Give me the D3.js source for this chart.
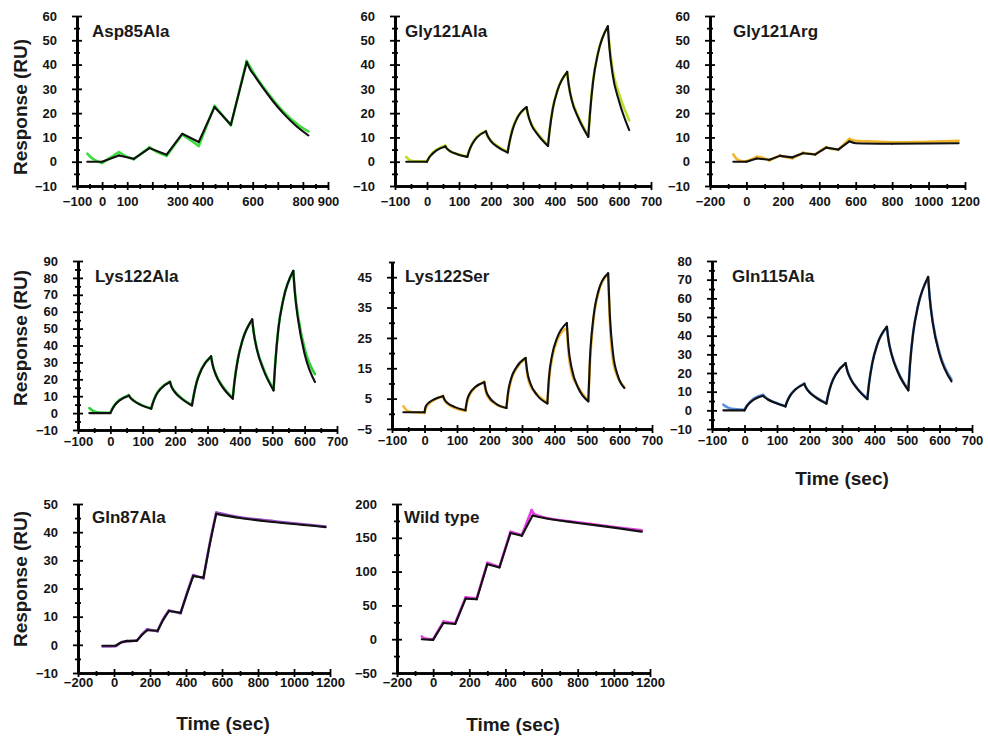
<!DOCTYPE html>
<html><head><meta charset="utf-8">
<script src="https://cdn.jsdelivr.net/npm/d3@7"></script>
<style>body{margin:0;background:#fff}</style>
</head><body>
<svg id="c" width="988" height="738"></svg>
<script>
// ---------- DATA (time sec, response RU) ----------
const asp85Ala_fit = [[-59,0],[0,0],[67,2.6],[126,1.2],[189,5.6],[257,2.9],[319,11.5],[385,8.1],[448,22.5],[513,15.2],[576,41],[590,38],[610,35],[644,30],[680,25],[723,19.8],[770,15],[822,10.8]];
const asp85Ala_obs = [[-59,3.3],[-45,1.8],[-20,0.2],[0,-0.5],[30,1.5],[67,4.0],[100,2.0],[126,1.0],[189,5.9],[220,4],[257,2.4],[319,11.2],[385,6.5],[448,23],[513,15],[576,41.5],[610,35.5],[644,30.5],[723,20.5],[790,14.5],[822,12.5]];

const gly121Ala_fit = [[-65,0],[0,0],[5,1.3],[15,3.0],[30,4.7],[57,6.3],[62,5.4],[72,4.4],[92,3.2],[126,2.0],[131,4.2],[141,7.2],[156,10.0],[184,12.5],[189,10.8],[199,8.6],[219,6.2],[252,3.8],[257,7.5],[267,13],[282,18],[311,22.5],[316,19.3],[326,15.3],[346,11.2],[378,6.5],[383,12.6],[393,21.7],[408,29.4],[438,37],[443,31.6],[453,25],[473,18],[504,10.2],[509,19.3],[519,33],[534,44.4],[565,55.8],[570,47],[580,36],[600,25],[632,13]];
const gly121Ala_obs = [[-65,2],[-55,0.8],[-40,0.2],[0,0.3],[5,1.5],[15,3.3],[30,5],[57,6.6],[62,5.6],[72,4.3],[92,3.3],[126,2.2],[131,4.3],[141,7.5],[156,10.2],[184,12.6],[189,10.6],[199,8.8],[219,6.6],[252,4.2],[257,7.8],[267,13.5],[282,18.2],[311,22.3],[316,19],[326,15.6],[346,11.6],[378,6.8],[383,13],[393,22],[408,29.6],[438,36.8],[443,31.3],[453,25.4],[473,18.5],[504,10.6],[509,19.8],[519,33.5],[534,44.6],[565,55.5],[570,48],[580,38],[600,28],[632,17]];

const gly121Arg_fit = [[-72,0],[0,0],[57,1.3],[126,0.8],[184,2.4],[252,1.8],[311,3.5],[378,3.0],[438,5.8],[504,5.0],[565,8.4],[600,7.6],[800,7.4],[1000,7.5],[1165,7.6]];
const gly121Arg_obs = [[-72,3.0],[-55,1.2],[-30,0.3],[0,0.2],[30,1.0],[57,2.0],[80,1.8],[126,0.5],[184,2.6],[220,1.8],[252,1.4],[311,3.7],[378,3.0],[438,6.0],[470,5.2],[504,5.0],[565,9.4],[600,8.6],[700,8.3],[800,8.0],[1000,8.2],[1165,8.6]];

const lys122Ala_fit = [[-65,0],[0,0],[5,2],[15,5],[30,7.7],[57,10.3],[62,9],[72,7.3],[92,5],[126,2.6],[131,5.8],[141,10.5],[156,14.5],[184,18.4],[189,15.5],[199,12.4],[219,8.6],[252,4.5],[257,10],[267,18.5],[282,26],[311,33.6],[316,28.4],[326,22.5],[346,15.5],[378,8.5],[383,17.9],[393,31],[408,43],[438,55.5],[443,47.3],[453,37.3],[473,25.5],[504,13.4],[509,28.5],[519,50],[534,67],[565,84.2],[570,71],[580,55],[600,35],[632,18.4]];
const lys122Ala_obs = [[-65,3],[-55,1.5],[-40,0.5],[0,0.2],[5,2.2],[15,5.3],[30,8],[57,10.6],[62,9.2],[72,7.5],[92,5.2],[126,2.8],[131,6],[141,10.8],[156,14.8],[184,18.6],[189,15.7],[199,12.7],[219,9],[252,4.8],[257,10.3],[267,18.8],[282,26.3],[311,33.4],[316,28.6],[326,22.8],[346,16],[378,9],[383,18.2],[393,31.3],[408,43.2],[438,55.2],[443,47.6],[453,37.8],[473,26.3],[504,14],[509,29],[519,50.4],[534,67.2],[565,84],[570,72],[580,57],[600,38],[632,23]];

const lys122Ser_fit = [[-65,0.5],[0,0.5],[4,2.5],[15,3.8],[30,4.8],[57,5.8],[62,4.6],[72,3.5],[92,2.3],[126,1.2],[131,4.5],[141,7],[156,8.8],[184,10.4],[189,7.8],[199,5.5],[219,3.4],[252,1.9],[257,7],[267,11.8],[282,15.2],[311,18.4],[316,14],[326,10],[346,6.2],[378,3.4],[383,12],[393,19.5],[408,25],[438,29.9],[443,22],[453,15],[473,8.5],[504,4.1],[509,18],[519,31],[534,40],[565,46.3],[570,33],[580,20],[595,12.5],[615,8.5]];
const lys122Ser_obs = [[-65,2.5],[-55,1.2],[-40,0.6],[0,0.3],[4,1.8],[15,3.4],[30,4.6],[57,5.9],[62,4.4],[72,3.2],[92,2.0],[126,1.0],[131,3.8],[141,6.6],[156,8.6],[184,10.6],[189,7.2],[199,5],[219,3.2],[252,2.0],[257,6.2],[267,11.2],[282,14.8],[311,18.2],[316,13.2],[326,9.2],[346,6.5],[378,3.6],[383,11],[393,18.6],[408,24.2],[438,28.2],[443,20.5],[453,13.4],[473,8.8],[504,4.4],[509,16.5],[519,30],[534,39.5],[565,46],[570,31],[580,17.5],[595,12],[615,8.8]];

const gln115Ala_fit = [[-65,0],[0,0],[5,1.6],[15,3.8],[30,5.9],[57,7.8],[62,7],[72,5.8],[92,4.2],[126,2.1],[131,4.6],[141,8],[156,11],[184,14.2],[189,12.2],[199,9.8],[219,6.9],[252,3.6],[257,7.8],[267,14],[282,19.5],[311,25.3],[316,21.4],[326,17],[346,11.8],[378,6],[383,14],[393,25],[408,35],[438,44.8],[443,37.6],[453,29.6],[473,20],[504,10.7],[509,24],[519,41.5],[534,56],[565,71.5],[570,60],[580,46],[600,30],[637,15.5]];
const gln115Ala_obs = [[-65,3],[-55,1.8],[-40,0.8],[0,0.3],[5,1.9],[15,4.2],[30,6.4],[57,8.3],[62,7.4],[72,6],[92,4.3],[126,2.3],[131,4.8],[141,8.2],[156,11.2],[184,14.3],[189,12.3],[199,10],[219,7.1],[252,3.8],[257,8],[267,14.2],[282,19.7],[311,25.1],[316,21.5],[326,17.2],[346,12],[378,6.3],[383,14.3],[393,25.2],[408,35.1],[438,44.6],[443,37.8],[453,30],[473,20.5],[504,11],[509,24.3],[519,41.7],[534,56],[565,71.2],[570,60.5],[580,46.8],[600,31],[637,16.5]];

const gln87Ala_fit = [[-64,-0.3],[8,-0.3],[40,0.8],[72,1.4],[126,1.4],[155,3.5],[185,5.2],[242,5.0],[270,8.5],[305,12],[370,11.4],[405,18],[440,24.4],[497,23.9],[530,35],[568,46.5],[700,45],[900,43.5],[1175,41.8]];
const gln87Ala_obs = [[-64,-0.6],[8,-0.5],[40,0.9],[72,1.2],[126,1.6],[155,3.7],[185,5.5],[242,4.8],[270,8.8],[305,12.2],[370,11.2],[405,18.3],[440,24.8],[497,23.6],[530,35.4],[568,47],[700,45.3],[900,43.8],[1175,42]];

const wildType_fit = [[-63,0],[0,-1],[57,24],[122,22.5],[180,60],[241,59],[300,111],[367,106],[428,157],[491,153],[550,183],[600,180],[800,172],[1000,165],[1155,159]];
const wildType_obs = [[-63,4],[-45,1],[0,0],[57,26],[122,23.5],[180,62],[241,60],[300,113],[367,107],[428,159],[491,154],[545,191],[560,185],[600,181],[800,173],[1000,166],[1155,161]];

// ---------- TICK LABELS ----------
const xLabels_A = [-100,0,100,300,400,600,800,900];
const xLabels_B = [-100,0,100,200,300,400,500,600,700];
const xLabels_C = [-200,0,200,400,600,800,1000,1200];
const yLabels_60 = [-10,0,10,20,30,40,50,60];
const yLabels_90 = [-10,0,10,20,30,40,50,60,70,80,90];
const yLabels_45 = [-5,5,15,25,35,45];
const yLabels_80 = [-10,0,10,20,30,40,50,60,70,80];
const yLabels_50 = [-10,0,10,20,30,40,50];
const yLabels_200 = [-50,0,50,100,150,200];

const titles = ["Asp85Ala","Gly121Ala","Gly121Arg","Lys122Ala","Lys122Ser","Gln115Ala","Gln87Ala","Wild type"];
const colors = ["#3ddc3d","#b8e02a","#f0b428","#2fcf3a","#f2b83a","#5b8fe0","#9a4cc8","#e63ee6"];

// ---------- LAYOUT ----------
const layout = [
 {fit:asp85Ala_fit, obs:asp85Ala_obs, xd:[-100,900], xr:[77,328], yd:[-10,60], yr:[186,16], xl:xLabels_A, xStep:50, yl:yLabels_60, yStep:5, tx:92, ty:37, pad:11, ylab:107},
 {fit:gly121Ala_fit, obs:gly121Ala_obs, xd:[-100,700], xr:[395,651], yd:[-10,60], yr:[186,16], xl:xLabels_B, xStep:50, yl:yLabels_60, yStep:5, tx:405, ty:37, pad:11},
 {fit:gly121Arg_fit, obs:gly121Arg_obs, xd:[-200,1200], xr:[710,965], yd:[-10,60], yr:[186,16], xl:xLabels_C, xStep:100, yl:yLabels_60, yStep:5, tx:733, ty:37, pad:11},
 {fit:lys122Ala_fit, obs:lys122Ala_obs, xd:[-100,700], xr:[78,337], yd:[-10,90], yr:[430,261], xl:xLabels_B, xStep:50, yl:yLabels_90, yStep:5, tx:95, ty:282, pad:7, ylab:338},
 {fit:lys122Ser_fit, obs:lys122Ser_obs, xd:[-100,700], xr:[392,652], yd:[-5,50], yr:[429,262], xl:xLabels_B, xStep:50, yl:yLabels_45, yStep:5, tx:405, ty:282, pad:7},
 {fit:gln115Ala_fit, obs:gln115Ala_obs, xd:[-100,700], xr:[712,972], yd:[-10,80], yr:[429,261], xl:xLabels_B, xStep:50, yl:yLabels_80, yStep:5, tx:732, ty:282, pad:7, time:[842,485]},
 {fit:gln87Ala_fit, obs:gln87Ala_obs, xd:[-200,1200], xr:[78,330], yd:[-10,50], yr:[673,504], xl:xLabels_C, xStep:100, yl:yLabels_50, yStep:5, tx:92, ty:523, pad:5, ylab:579, time:[223,730]},
 {fit:wildType_fit, obs:wildType_obs, xd:[-200,1200], xr:[397,650], yd:[-50,200], yr:[673,504], xl:xLabels_C, xStep:100, yl:yLabels_200, yStep:25, tx:404, ty:523, pad:5, time:[513,731]}
];

const svg = d3.select("#c");
const FONT = "'Liberation Sans', Arial, sans-serif";

function range(a,b,s){const r=[];for(let v=a;v<=b+1e-9;v+=s)r.push(+v.toFixed(6));return r;}

// split a series at its turning points (peaks / troughs) so each phase is smoothed separately
function phases(arr){
  const segs=[]; let cur=[arr[0]]; let dir=null;
  for(let k=1;k<arr.length;k++){
    const d=Math.sign(arr[k][1]-arr[k-1][1]);
    if(dir!==null && d!==dir){ segs.push(cur); cur=[arr[k-1]]; }
    cur.push(arr[k]); dir=d;
  }
  segs.push(cur); return segs;
}

layout.forEach((p,i)=>{
  const x = d3.scaleLinear().domain(p.xd).range(p.xr);
  const y = d3.scaleLinear().domain(p.yd).range(p.yr);
  const g = svg.append("g");
  const x0 = p.xr[0], y0 = p.yr[0];
  const xAll = range(p.xd[0], p.xd[1], p.xStep);
  const yAll = range(p.yd[0], p.yd[1], p.yStep);
  const xMaj = xAll.filter((v,k)=>k%2===0);
  const xMin = xAll.filter((v,k)=>k%2===1);
  const yMaj = yAll.filter(v=>(v - p.yl[0]) % (p.yl[1]-p.yl[0]) === 0);
  const yMin = yAll.filter(v=>!yMaj.includes(v));
  const fmt = d3.format("d");

  const xg = g.append("g").attr("transform",`translate(0,${y0})`);
  xg.append("g").call(d3.axisBottom(x).tickValues(xMaj).tickSize(4).tickSizeOuter(0).tickFormat(""));
  xg.append("g").call(d3.axisTop(x).tickValues(xMaj).tickSize(4).tickSizeOuter(0).tickFormat(""));
  xg.append("g").call(d3.axisBottom(x).tickValues(xMin).tickSize(3).tickSizeOuter(0).tickFormat(""));
  xg.append("g").call(d3.axisTop(x).tickValues(xMin).tickSize(2).tickSizeOuter(0).tickFormat(""));
  xg.append("g").call(d3.axisBottom(x).tickValues(p.xl).tickSize(0).tickPadding(p.pad).tickSizeOuter(0).tickFormat(fmt))
    .call(a=>a.select(".domain").remove());
  const yg = g.append("g").attr("transform",`translate(${x0},0)`);
  yg.append("g").call(d3.axisLeft(y).tickValues(yMaj).tickSize(5).tickSizeOuter(0).tickFormat(""));
  yg.append("g").call(d3.axisRight(y).tickValues(yMaj).tickSize(5).tickSizeOuter(0).tickFormat(""));
  yg.append("g").call(d3.axisLeft(y).tickValues(yMin).tickSize(3).tickSizeOuter(0).tickFormat(""));
  yg.append("g").call(d3.axisRight(y).tickValues(yMin).tickSize(3).tickSizeOuter(0).tickFormat(""));
  yg.append("g").call(d3.axisLeft(y).tickValues(p.yl).tickSize(0).tickPadding(20).tickSizeOuter(0).tickFormat(fmt))
    .call(a=>a.select(".domain").remove());

  g.selectAll(".domain").attr("stroke","#000").attr("stroke-width",2.2);
  g.selectAll(".tick line").attr("stroke","#000").attr("stroke-width",1.8);
  g.selectAll(".tick text").attr("fill","#141414").style("font-family",FONT)
    .style("font-size","13px").style("font-weight","bold");

  const line = d3.line().x(d=>x(d[0])).y(d=>y(d[1])).curve(d3.curveMonotoneX);
  g.append("g").selectAll("path").data(phases(p.obs)).join("path").attr("d",line).attr("fill","none")
    .attr("stroke",colors[i]).attr("stroke-width",2.6).attr("stroke-linejoin","round").attr("stroke-linecap","round");
  g.append("g").selectAll("path").data(phases(p.fit)).join("path").attr("d",line).attr("fill","none")
    .attr("stroke","#111").attr("stroke-width",2.1).attr("stroke-linejoin","round").attr("stroke-linecap","round");

  g.append("text").attr("x",p.tx).attr("y",p.ty).text(titles[i])
    .style("font-family",FONT).style("font-size","17px").style("font-weight","bold").attr("fill","#1a1a1a");

  if(p.ylab){
    g.append("text").attr("transform",`translate(27,${p.ylab}) rotate(-90)`)
      .attr("text-anchor","middle").text("Response (RU)")
      .style("font-family",FONT).style("font-size","19px").style("font-weight","bold").attr("fill","#1a1a1a");
  }
  if(p.time){
    g.append("text").attr("x",p.time[0]).attr("y",p.time[1]).attr("text-anchor","middle").text("Time (sec)")
      .style("font-family",FONT).style("font-size","19px").style("font-weight","bold").attr("fill","#1a1a1a");
  }
});
</script>
</body></html>
